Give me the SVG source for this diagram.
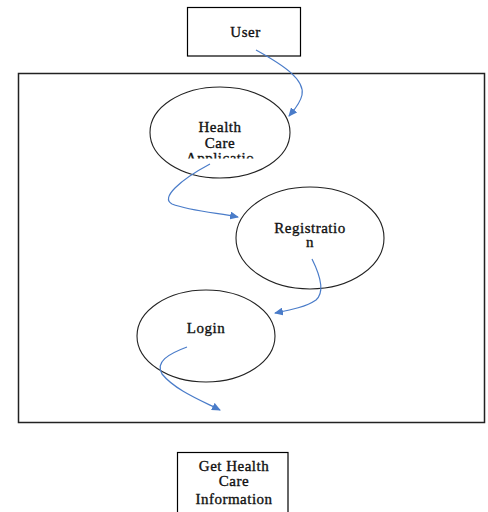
<svg xmlns="http://www.w3.org/2000/svg" width="488" height="512" viewBox="0 0 488 512">
<style>
.box{fill:#fff;stroke:#000;stroke-width:1.2}
.ell{fill:#fff;stroke:#222;stroke-width:1.1}
.t{font-family:"Liberation Serif","Times New Roman",serif;font-size:15px;fill:#111;stroke:#111;stroke-width:0.35;text-anchor:middle;letter-spacing:0.5px}
.c{fill:none;stroke:#4a7cc9;stroke-width:1.2}
</style>
<defs>
<marker id="ah" markerWidth="10" markerHeight="8" refX="8" refY="4" orient="auto" markerUnits="userSpaceOnUse">
<path d="M0,0 L9,4 L0,8 z" fill="#4a7cc9"/>
</marker>
<clipPath id="clipHC"><rect x="140" y="100" width="160" height="58.5"/></clipPath>
</defs>
<rect width="488" height="512" fill="#fff"/>
<g id="system">
<rect x="18.5" y="73.5" width="466" height="349" fill="none" stroke="#222" stroke-width="1.5"/>
</g>
<g id="user">
<rect class="box" x="187.5" y="7.5" width="113" height="48.5"/>
<text class="t" x="245.5" y="37">User</text>
</g>
<g id="healthcare">
<ellipse class="ell" cx="220" cy="132.5" rx="70" ry="45.5"/>
<text class="t" x="220" y="132">Health</text>
<text class="t" x="220" y="147.5">Care</text>
<text class="t" x="220" y="162.5" clip-path="url(#clipHC)">Applicatio</text>
</g>
<g id="registration">
<ellipse class="ell" cx="310" cy="238" rx="74" ry="51"/>
<text class="t" x="310" y="232.5">Registratio</text>
<text class="t" x="310" y="247">n</text>
</g>
<g id="login">
<ellipse class="ell" cx="206" cy="336" rx="69" ry="46"/>
<text class="t" x="206" y="333">Login</text>
</g>
<g id="getinfo">
<rect class="box" x="177.5" y="452.5" width="110.5" height="70"/>
<text class="t" x="234" y="470.5">Get Health</text>
<text class="t" x="234" y="486">Care</text>
<text class="t" x="234" y="504">Information</text>
</g>
<g id="connectors">
<path class="c" d="M256,50 C285,66 305,80 302,95 C300,104 294,110 289,116" marker-end="url(#ah)"/>
<path class="c" d="M210,164 C180,180 160,198 172,204 C190,211 218,213 238,217" marker-end="url(#ah)"/>
<path class="c" d="M312,259 C320,275 325,292 316,300 C306,307 290,310 275,313" marker-end="url(#ah)"/>
<path class="c" d="M187,347 C168,354 155,362 162,374 C175,390 200,400 220,410" marker-end="url(#ah)"/>
</g>
</svg>
